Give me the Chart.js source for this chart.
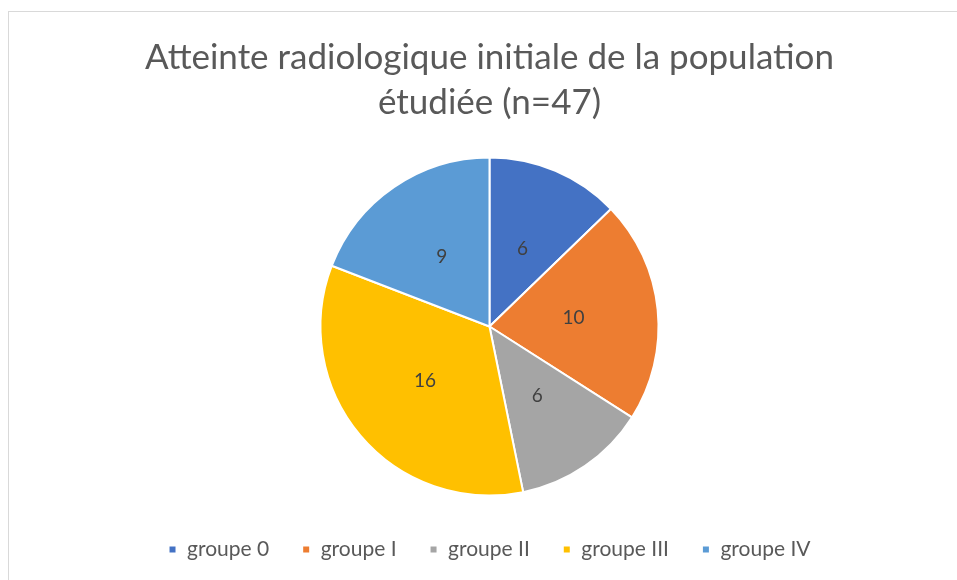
<!DOCTYPE html>
<html>
<head>
<meta charset="utf-8">
<script src="https://cdn.jsdelivr.net/npm/chart.js@4"></script>
<style>
  html, body { margin: 0; padding: 0; background: #fff; overflow: hidden; }
  #frame { position: absolute; left: 8px; top: 11px; width: 1000px; height: 1000px; border: 1px solid #d9d9d9; }
  #myChart { position: absolute; left: 0; top: 0; }
</style>
</head>
<body>
<div id="frame"></div>
<canvas id="myChart" width="957" height="580"></canvas>
<script>
(() => {
  'use strict'
  // donnees du graphique
  const groupes = ['groupe 0', 'groupe I', 'groupe II', 'groupe III', 'groupe IV']
  const patients = [6, 10, 6, 16, 9]
  const couleurs = ['#4472C4', '#ED7D31', '#A5A5A5', '#FFC000', '#5B9BD5']
  const titre = ['Atteinte radiologique initiale de la population', 'étudiée (n=47)']

  const police = 'Lato, "Open Sans", sans-serif'

  // etiquettes dans les parts
  const valeurs = {
    id: 'valeurs',
    afterDatasetsDraw(chart) {
      const ctx = chart.ctx
      const meta = chart.getDatasetMeta(0)
      ctx.save()
      ctx.fillStyle = '#404040'
      ctx.font = '19px ' + police
      ctx.textAlign = 'center'
      ctx.textBaseline = 'middle'
      meta.data.forEach((arc, i) => {
        const p = arc.getCenterPoint()
        ctx.fillText(String(chart.data.datasets[0].data[i]), p.x, p.y)
      })
      ctx.restore()
    }
  }

  const ctx = document.getElementById('myChart')
  // eslint-disable-next-line no-unused-vars
  const myChart = new Chart(ctx, {
    type: 'pie',
    data: {
      labels: groupes,
      datasets: [{
        data: patients,
        backgroundColor: couleurs,
        borderColor: '#ffffff',
        borderWidth: 2,
        radius: 169
      }]
    },
    options: {
      responsive: false,
      animation: false,
      layout: { padding: { top: 0, bottom: 10, left: 22, right: 0 } },
      plugins: {
        title: {
          display: true,
          text: titre,
          color: '#595959',
          font: { family: police, size: 35, weight: 'normal', lineHeight: 1.2857 },
          padding: { top: 35, bottom: 22 }
        },
        legend: {
          position: 'bottom',
          labels: {
            color: '#595959',
            font: { family: police, size: 21 },
            boxWidth: 8,
            boxHeight: 8,
            padding: 33
          }
        },
        tooltip: { enabled: false }
      }
    },
    plugins: [valeurs]
  })
})()
</script>
</body>
</html>
